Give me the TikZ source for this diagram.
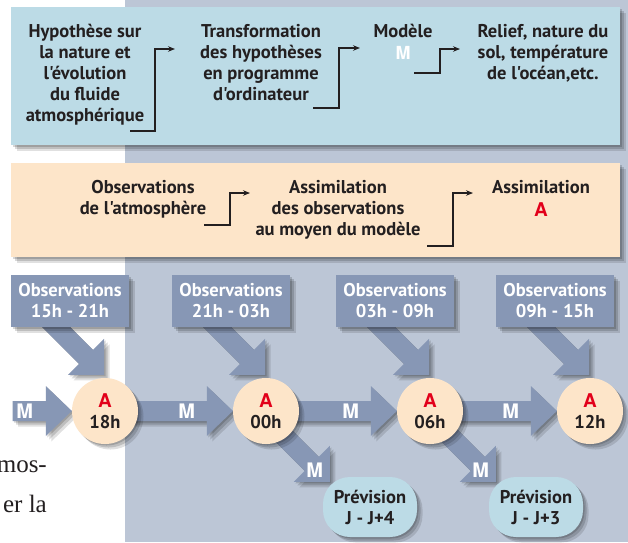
\documentclass[tikz,border=0pt]{standalone}
\usepackage{fontspec}
\usetikzlibrary{arrows.meta,shadows,calc}
\setmainfont{PT Sans}[Ligatures=TeXOff]
\newfontfamily\heavyfont{TeX Gyre Heros}
\newfontfamily\bodyserif{Liberation Serif}
\definecolor{bggray}{HTML}{BCC6D6}
\definecolor{slate}{HTML}{8797B5}
\definecolor{lblue}{HTML}{BCDBE6}
\definecolor{beige}{HTML}{FDE5C9}
\definecolor{ared}{HTML}{E2001A}
\definecolor{ink}{HTML}{231F20}
\pgfdeclarelayer{base}
\pgfdeclarelayer{arrowlayer}
\pgfsetlayers{base,arrowlayer,main}
\tikzset{
  softshadow/.style={
    general shadow={fill=black,opacity=.16,shadow xshift=1.5pt,shadow yshift=-1.5pt},
    general shadow={fill=black,opacity=.15,shadow xshift=3.5pt,shadow yshift=-3.5pt},
    general shadow={fill=black,opacity=.12,shadow xshift=5.5pt,shadow yshift=-5.5pt}},
  lab/.style={font=\fontsize{18.5}{21}\selectfont\bfseries, text=ink, align=center, inner sep=0pt},
  wlab/.style={lab, text=white},
  mlab/.style={font=\heavyfont\bfseries\fontsize{20}{20}\selectfont, text=white, inner sep=0pt},
  redA/.style={font=\heavyfont\bfseries\fontsize{19}{19}\selectfont, text=ared, inner sep=0pt},
  conn/.style={draw=ink, line width=1.1pt, -{Stealth[length=7pt,width=5.5pt]}},
  panel/.style={softshadow},
  bigarrow/.style={fill=slate, softshadow},
  clock/.style={circle, fill=beige, minimum size=66pt, softshadow, lab},
  prevbox/.style={rectangle, rounded corners=27pt, fill=lblue, minimum width=94pt, minimum height=60pt, softshadow, lab},
  obsbox/.style={rectangle, fill=slate, minimum width=118pt, minimum height=52pt, softshadow, wlab},
}
\newcommand\HArrow[2]{%
  \fill[bigarrow] ($(#1)+(0,-10)$) -- ($(#2)+(-26,-10)$) -- ($(#2)+(-26,-25)$) -- (#2)
    -- ($(#2)+(-26,25)$) -- ($(#2)+(-26,10)$) -- ($(#1)+(0,10)$) -- cycle;}
\newcommand\DArrow[1]{%
  \fill[bigarrow] (#1) -- ($(#1)+(0,-36)$) -- ($(#1)+(-11,-25)$) -- ($(#1)+(-71,-85)$)
    -- ($(#1)+(-85,-71)$) -- ($(#1)+(-25,-11)$) -- ($(#1)+(-36,0)$) -- cycle;}
\begin{document}
\begin{tikzpicture}[x=1pt,y=-1pt]
\useasboundingbox (0,0) rectangle (628,542);
\begin{pgfonlayer}{base}
  \fill[white] (0,0) rectangle (628,542);
  \fill[bggray] (125,0) rectangle (628,542);
\end{pgfonlayer}

% panels
\fill[lblue, panel] (11,7) rectangle (620,145);
\fill[beige, panel] (11,163) rectangle (620,257);

% top panel texts (anchor = baseline of last line)
\node[lab, anchor=base] (hyp) at (85,121) {Hypothèse sur\\la nature et\\l'évolution\\du fluide\\atmosphérique};
\node[lab, anchor=base] (trans) at (261,100) {Transformation\\des hypothèses\\en programme\\d'ordinateur};
\node[lab, anchor=base] (mod) at (403,37) {Modèle};
\node[mlab, font=\heavyfont\bfseries\fontsize{18}{18}\selectfont] (modM) at (403,53) {M};
\node[lab, anchor=base] (relief) at (543,79) {Relief, nature du\\sol, température\\de l'océan,etc.};

% beige panel texts
\node[lab, anchor=base] (obsatm) at (143,214) {Observations\\de l'atmosphère};
\node[lab, anchor=base] (assim) at (338,235) {Assimilation\\des observations\\au moyen du modèle};
\node[lab, anchor=base] (assimB) at (541,193) {Assimilation};
\node[redA] (assimA) at (541,210) {A};

% thin connectors
\coordinate (k1s) at (130,131); \coordinate (k1e) at (175,49);
\coordinate (k2s) at (313,108); \coordinate (k2e) at (360,48);
\coordinate (k3s) at (414,73);  \coordinate (k3e) at (460,49);
\coordinate (k4s) at (204,225); \coordinate (k4e) at (250,193);
\coordinate (k5s) at (427,246); \coordinate (k5e) at (473,193);
\draw[conn] (k1s) -- ++(25,0) |- (k1e);
\draw[conn] (k2s) -- ++(26,0) |- (k2e);
\draw[conn] (k3s) -- ++(26,0) |- (k3e);
\draw[conn] (k4s) -- ++(26,0) |- (k4e);
\draw[conn] (k5s) -- ++(26,0) |- (k5e);

% observation boxes
\node[obsbox] (o1) at (70,301) {Observations\\15h - 21h};
\node[obsbox] (o2) at (231,301) {Observations\\21h - 03h};
\node[obsbox] (o3) at (395,301) {Observations\\03h - 09h};
\node[obsbox] (o4) at (555,301) {Observations\\09h - 15h};

% analysis circles
\node[clock] (c1) at (105,411) {{\heavyfont\bfseries\fontsize{19}{19}\selectfont\color{ared}A}\\18h};
\node[clock] (c2) at (266,411) {{\heavyfont\bfseries\fontsize{19}{19}\selectfont\color{ared}A}\\00h};
\node[clock] (c3) at (430,411) {{\heavyfont\bfseries\fontsize{19}{19}\selectfont\color{ared}A}\\06h};
\node[clock] (c4) at (590,411) {{\heavyfont\bfseries\fontsize{19}{19}\selectfont\color{ared}A}\\12h};

% forecasts
\node[prevbox] (p1) at (370,507) {Prévision\\J - J+4};
\node[prevbox] (p2) at (536,507) {Prévision\\J - J+3};

% arrow anchor points
\coordinate (m0) at (12.7,411);
\coordinate (d1) at ($(c1.north)+(-1,-3)$);
\coordinate (d2) at ($(c2.north)+(-1,-3)$);
\coordinate (d3) at ($(c3.north)+(-1,-3)$);
\coordinate (d4) at ($(c4.north)+(-1,-3)$);
\coordinate (e2) at ($(p1.north west)+(7,5)$);
\coordinate (e3) at ($(p2.north west)+(7,5)$);

\begin{pgfonlayer}{arrowlayer}
  \DArrow{d1}
  \DArrow{d2}
  \DArrow{d3}
  \DArrow{d4}
  \HArrow{m0}{c1.west}
  \HArrow{c1.center}{c2.west}
  \HArrow{c2.center}{c3.west}
  \HArrow{c3.center}{c4.west}
  \DArrow{e2}
  \DArrow{e3}
\end{pgfonlayer}

% M labels on the model arrows
\node[mlab] (hm1) at ($(c1.west)+(-47,0)$) {M};
\node[mlab] (hm2) at ($(c2.west)+(-46,0)$) {M};
\node[mlab] (hm3) at ($(c3.west)+(-46,0)$) {M};
\node[mlab] (hm4) at ($(c4.west)+(-46,0)$) {M};
\node[mlab] (dm2) at ($(e2)+(-15,-12)$) {M};
\node[mlab] (dm3) at ($(e3)+(-15,-12)$) {M};

% cut-off body text
\node[anchor=base east, font=\bodyserif\fontsize{25}{25}\selectfont, text=ink, inner sep=0pt] (bodyA) at (47,472) {mos-};
\node[anchor=base east, font=\bodyserif\fontsize{25}{25}\selectfont, text=ink, inner sep=0pt] (bodyB) at (47,512) {er la};
\end{tikzpicture}
\end{document}
